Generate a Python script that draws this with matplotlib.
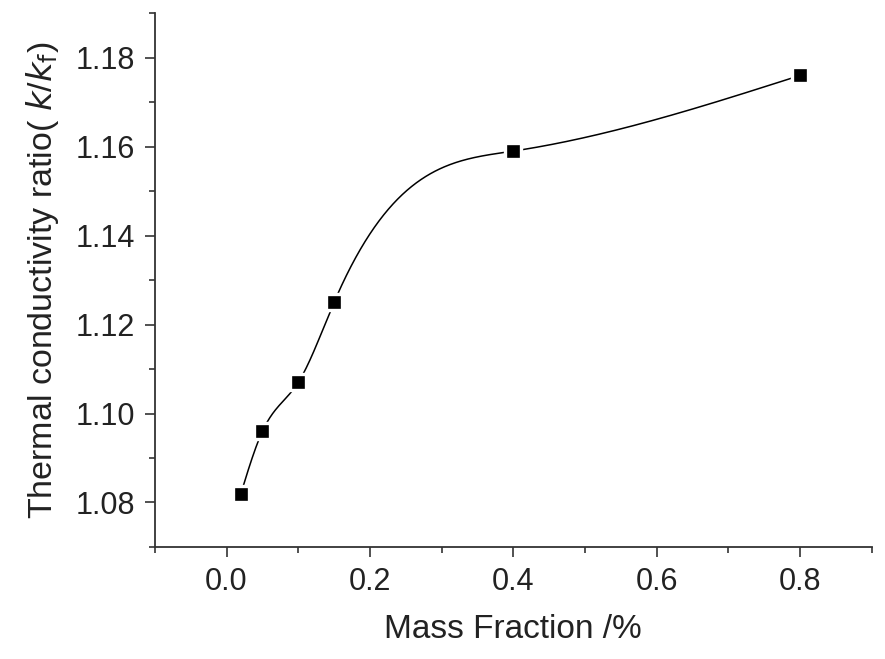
import numpy as np
import matplotlib
matplotlib.use("Agg")
import matplotlib.pyplot as plt
from matplotlib.ticker import MultipleLocator, FormatStrFormatter

mass_fraction = [0.02, 0.05, 0.10, 0.15, 0.40, 0.80]
k_ratio = [1.082, 1.096, 1.107, 1.125, 1.159, 1.176]


def natural_cubic_spline(x, y, xs):
    x = np.asarray(x, float)
    y = np.asarray(y, float)
    n = len(x)
    h = np.diff(x)
    A = np.zeros((n, n))
    b = np.zeros(n)
    A[0, 0] = 1
    A[-1, -1] = 1
    for i in range(1, n - 1):
        A[i, i - 1] = h[i - 1]
        A[i, i] = 2 * (h[i - 1] + h[i])
        A[i, i + 1] = h[i]
        b[i] = 3 * ((y[i + 1] - y[i]) / h[i] - (y[i] - y[i - 1]) / h[i - 1])
    c = np.linalg.solve(A, b)
    out = np.empty_like(xs)
    for j, xv in enumerate(xs):
        i = min(max(np.searchsorted(x, xv) - 1, 0), n - 2)
        dx = xv - x[i]
        bb = (y[i + 1] - y[i]) / h[i] - h[i] * (2 * c[i] + c[i + 1]) / 3
        d = (c[i + 1] - c[i]) / (3 * h[i])
        out[j] = y[i] + bb * dx + c[i] * dx ** 2 + d * dx ** 3
    return out


plt.rcParams['font.family'] = ['Liberation Sans', 'DejaVu Sans']

fig = plt.figure(figsize=(8.85, 6.59), dpi=100)
ax = fig.add_axes([0.175, 0.170, 0.810, 0.810])

xs = np.linspace(mass_fraction[0], mass_fraction[-1], 600)
ax.plot(xs, natural_cubic_spline(mass_fraction, k_ratio, xs), color='black', lw=1.1, zorder=2)
ax.plot(mass_fraction, k_ratio, 's', color='black', ms=11.0, mec='white', mew=2.4, zorder=3)

ax.set_xlim(-0.1, 0.9)
ax.set_ylim(1.07, 1.19)
ax.xaxis.set_major_locator(MultipleLocator(0.2))
ax.xaxis.set_minor_locator(MultipleLocator(0.1))
ax.yaxis.set_major_locator(MultipleLocator(0.02))
ax.yaxis.set_minor_locator(MultipleLocator(0.01))
ax.xaxis.set_major_formatter(FormatStrFormatter('%.1f'))
ax.yaxis.set_major_formatter(FormatStrFormatter('%.2f'))

for s in ['top', 'right']:
    ax.spines[s].set_visible(False)
for s in ['left', 'bottom']:
    ax.spines[s].set_linewidth(1.3)
    ax.spines[s].set_color('#333333')

ax.tick_params(which='both', direction='out', color='#333333', width=1.2, labelsize=22, labelcolor='#222222')
ax.tick_params(which='major', length=7.5, pad=7)
ax.tick_params(which='minor', length=4)

ax.set_xlabel('Mass Fraction /%', fontsize=24, color='#222222', labelpad=12)
ax.set_ylabel(r'Thermal conductivity ratio( $\mathit{k}$/$\mathit{k}_\mathrm{f}$)', fontsize=24.5, color='#222222', labelpad=10)

fig.savefig('out.png', dpi=100)
